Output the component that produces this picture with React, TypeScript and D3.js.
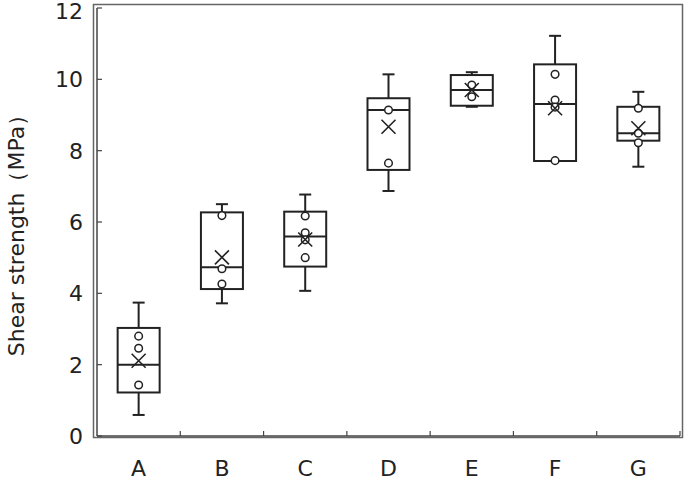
import React from 'react';
import * as d3 from 'd3';

const categories = ['A', 'B', 'C', 'D', 'E', 'F', 'G'];
const whiskerLow = [0.59, 3.72, 4.07, 6.87, 9.23, 7.71, 7.55];
const q1 = [1.22, 4.12, 4.75, 7.46, 9.26, 7.71, 8.28];
const median = [2.0, 4.73, 5.59, 9.14, 9.7, 9.31, 8.49];
const q3 = [3.03, 6.27, 6.29, 9.47, 10.12, 10.42, 9.23];
const whiskerHigh = [3.74, 6.5, 6.77, 10.14, 10.2, 11.22, 9.65];
const means = [2.11, 5.01, 5.51, 8.67, 9.7, 9.19, 8.63];
const points = [
  [2.8, 2.46, 1.43],
  [6.18, 4.69, 4.26],
  [6.17, 5.7, 5.5, 5.0],
  [9.14, 7.65],
  [9.84, 9.51],
  [10.14, 9.42, 9.22, 7.72],
  [9.19, 8.49, 8.22],
];
const yTicks = [0, 2, 4, 6, 8, 10, 12];

export default function App() {
  const width = 685;
  const height = 480;
  const left = 97;
  const right = 680;
  const top = 8;
  const bottom = 436;

  const x = d3.scaleBand().domain(categories).range([left, right]).padding(0);
  const y = d3.scaleLinear().domain([0, 12]).range([bottom, top]);

  const boxW = 42;
  const capW = 12;
  const ink = '#222';
  const font = '"DejaVu Sans", Verdana, sans-serif';

  const boundaries = categories.map((c) => x(c)! + x.bandwidth());

  return (
    <svg width={width} height={height} style={{ position: 'absolute', left: 0, top: 0 }}>
      <rect x={0} y={0} width={width} height={height} fill="#fff" />
      {/* outer frame */}
      <rect x={93.5} y={4.5} width={589} height={433} fill="none" stroke="#666" strokeWidth={1.5} />
      {/* axes */}
      <line x1={left} x2={left} y1={top} y2={bottom} stroke="#444" strokeWidth={1.5} />
      <line x1={left} x2={right} y1={bottom} y2={bottom} stroke="#444" strokeWidth={1.5} />
      {yTicks.map((t) => (
        <g key={t}>
          <line x1={left} x2={left + 5} y1={y(t)} y2={y(t)} stroke="#444" strokeWidth={1.2} />
          {/* keep the top label just inside the page */}
          <text x={83} y={Math.max(y(t) + 8, 19)} textAnchor="end" fontFamily={font} fontSize={22} fill="#222">
            {t}
          </text>
        </g>
      ))}
      {boundaries.map((b, i) => (
        <line key={i} x1={b} x2={b} y1={bottom} y2={bottom - 5} stroke="#444" strokeWidth={1.2} />
      ))}
      {categories.map((c) => (
        <text key={c} x={x(c)! + x.bandwidth() / 2} y={476} textAnchor="middle" fontFamily={font} fontSize={22} fill="#222">
          {c}
        </text>
      ))}
      <text
        transform={`translate(24,${230}) rotate(-90)`}
        textAnchor="middle"
        fontFamily={font}
        fontSize={22}
        fill="#222"
      >
        Shear strength（MPa）
      </text>

      {categories.map((c, i) => {
        const cx = x(c)! + x.bandwidth() / 2;
        const m = y(means[i]);
        return (
          <g key={c} stroke={ink} fill="none" strokeWidth={2}>
            <line x1={cx} x2={cx} y1={y(whiskerHigh[i])} y2={y(q3[i])} />
            <line x1={cx} x2={cx} y1={y(q1[i])} y2={y(whiskerLow[i])} />
            <line x1={cx - capW / 2} x2={cx + capW / 2} y1={y(whiskerHigh[i])} y2={y(whiskerHigh[i])} />
            <line x1={cx - capW / 2} x2={cx + capW / 2} y1={y(whiskerLow[i])} y2={y(whiskerLow[i])} />
            <rect x={cx - boxW / 2} y={y(q3[i])} width={boxW} height={y(q1[i]) - y(q3[i])} />
            <line x1={cx - boxW / 2} x2={cx + boxW / 2} y1={y(median[i])} y2={y(median[i])} />
            {points[i].map((p, j) => (
              <circle key={j} cx={cx} cy={y(p)} r={3.8} fill="#fff" strokeWidth={1.5} />
            ))}
            <path d={`M${cx - 7},${m - 7}L${cx + 7},${m + 7}M${cx - 7},${m + 7}L${cx + 7},${m - 7}`} strokeWidth={1.6} />
          </g>
        );
      })}
    </svg>
  );
}
